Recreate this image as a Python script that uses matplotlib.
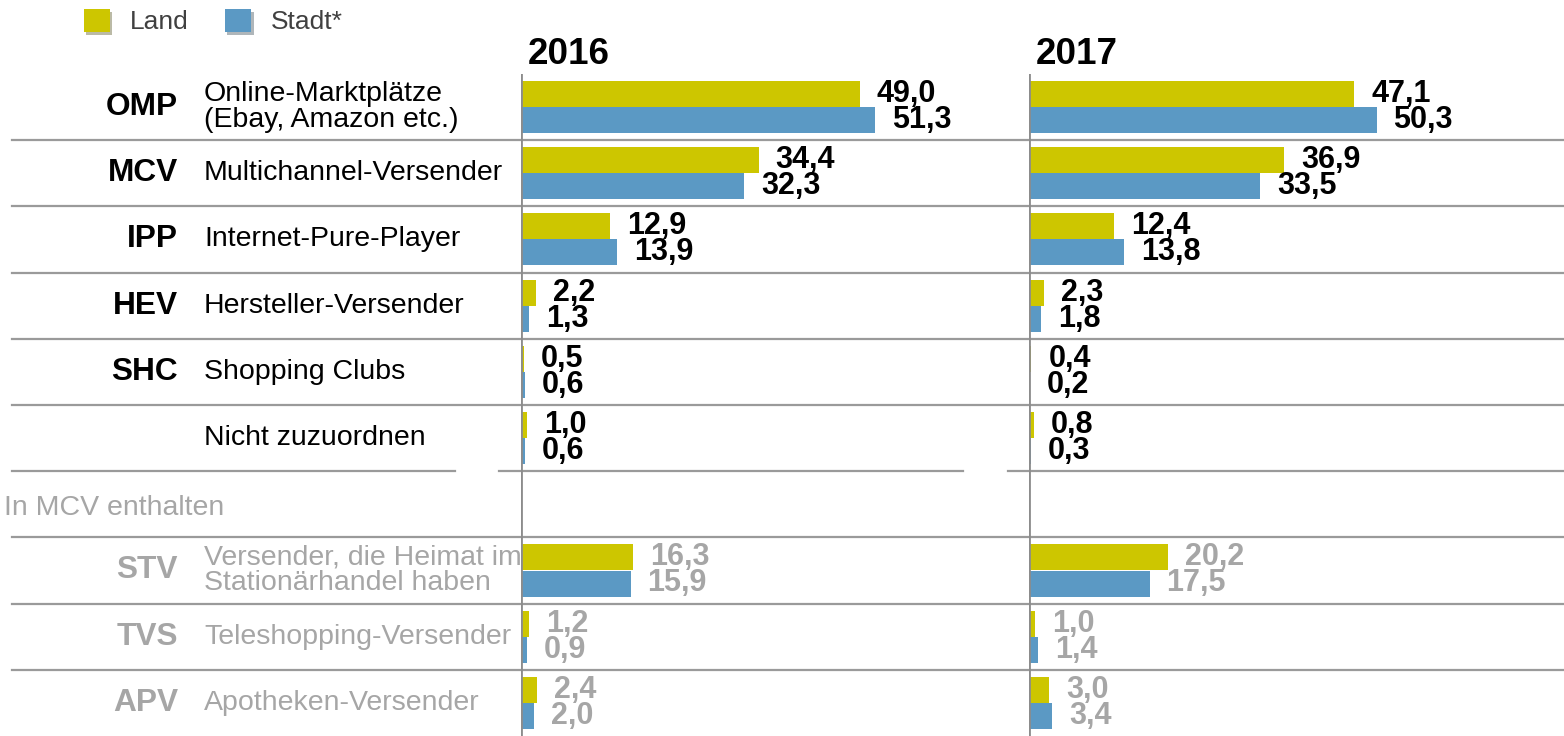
import matplotlib.pyplot as plt
import matplotlib.patheffects as pe

plt.rcParams['font.family'] = ['Liberation Sans', 'DejaVu Sans']

# data
abbr = ['OMP', 'MCV', 'IPP', 'HEV', 'SHC', '', '', 'STV', 'TVS', 'APV']
desc = ['Online-Marktplätze\n(Ebay, Amazon etc.)', 'Multichannel-Versender',
        'Internet-Pure-Player', 'Hersteller-Versender', 'Shopping Clubs',
        'Nicht zuzuordnen', '', 'Versender, die Heimat im\nStationärhandel haben',
        'Teleshopping-Versender', 'Apotheken-Versender']
land_2016 = [49.0, 34.4, 12.9, 2.2, 0.5, 1.0, None, 16.3, 1.2, 2.4]
stadt_2016 = [51.3, 32.3, 13.9, 1.3, 0.6, 0.6, None, 15.9, 0.9, 2.0]
land_2017 = [47.1, 36.9, 12.4, 2.3, 0.4, 0.8, None, 20.2, 1.0, 3.0]
stadt_2017 = [50.3, 33.5, 13.8, 1.8, 0.2, 0.3, None, 17.5, 1.4, 3.4]
years = ['2016', '2017']

YELLOW = '#CDC600'
BLUE = '#5B99C4'
GRAY = '#A6A6A6'
LINE = '#9A9A9A'

W, H = 1564, 736
fig = plt.figure(figsize=(W / 100, H / 100), dpi=100)

top = 1 - 74 / H
ylim = (9.5, -0.5)

# background axes for row labels and separators
bg = fig.add_axes([0, 0, 1, top])
bg.set_xlim(0, 1)
bg.set_ylim(*ylim)
bg.axis('off')

for i in range(len(abbr)):
    if i == 6:
        bg.text(4 / W, i + 0.05, 'In MCV enthalten', color=GRAY, fontsize=20.5,
                va='center', ha='left')
        continue
    col = GRAY if i > 6 else 'black'
    bg.text(178 / W, i, abbr[i], color=col, fontsize=22.8, fontweight='bold',
            va='center', ha='right')
    bg.text(204 / W, i, desc[i], color=col, fontsize=20.5, va='center',
            ha='left', linespacing=1.0)

for y in [0.5, 1.5, 2.5, 3.5, 4.5, 6.5, 7.5, 8.5]:
    bg.axhline(y, xmin=12 / W, xmax=1, color=LINE, lw=1.6)
for a, b in [(12, 455), (499, 963), (1008, W)]:
    bg.axhline(5.5, xmin=a / W, xmax=b / W, color=LINE, lw=1.6)

scale = 6.92  # pixels per unit
lefts = [520.5, 1028.5]
series = [(land_2016, stadt_2016), (land_2017, stadt_2017)]
bh = 26 / 66.2

for k in range(2):
    width_px = 500
    ax = fig.add_axes([lefts[k] / W, 0, width_px / W, top])
    ax.set_facecolor('none')
    ax.set_xlim(0, width_px / scale)
    ax.set_ylim(*ylim)
    ax.axis('off')
    ax.axvline(0, color='#8C8C8C', lw=2)
    land, stadt = series[k]
    rows = [i for i in range(len(land)) if land[i] is not None]
    ax.barh([i - bh / 2 for i in rows], [land[i] for i in rows], height=bh,
            color=YELLOW, label='Land')
    ax.barh([i + bh / 2 for i in rows], [stadt[i] for i in rows], height=bh,
            color=BLUE, label='Stadt*')
    for i in rows:
        col = GRAY if i > 6 else 'black'
        for v, yy in [(land[i], i - bh / 2), (stadt[i], i + bh / 2)]:
            ax.annotate(f'{v:.1f}'.replace('.', ','), xy=(v, yy),
                        xytext=(17, 0), textcoords='offset pixels',
                        va='center', ha='left', fontsize=22,
                        fontweight='bold', color=col)
    ax.annotate(years[k], xy=(0, -0.5), xytext=(7, 19),
                textcoords='offset pixels', va='center', ha='left',
                fontsize=26.5, fontweight='bold')
    if k == 0:
        handles, labels = ax.get_legend_handles_labels()

leg = fig.legend(handles, labels, loc='upper left', bbox_to_anchor=(84 / W, 1 - 9 / H),
                 ncol=2, frameon=False, fontsize=19, handlelength=1.0,
                 handleheight=0.95, handletextpad=0.72, columnspacing=1.4,
                 borderpad=0, borderaxespad=0, labelcolor='#404040')
for h in leg.legend_handles:
    h.set_path_effects([pe.SimplePatchShadow(offset=(1.5, -2), alpha=0.35),
                        pe.Normal()])

fig.savefig('out.png', dpi=100)
